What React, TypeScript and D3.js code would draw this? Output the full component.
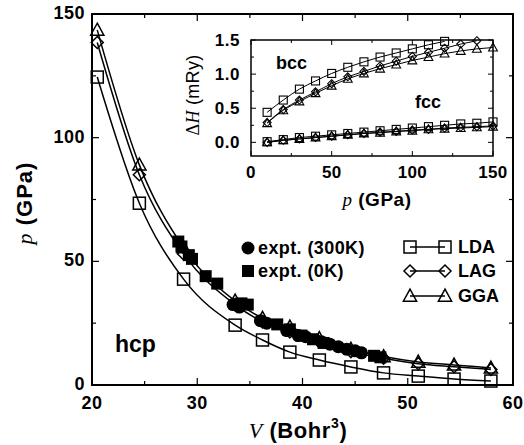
import React from "react";
import * as d3 from "d3";

// ---- main plot data (V in Bohr^3, p in GPa) ----
const vTheory = [20.5, 24.5, 28.7, 33.6, 36.2, 38.8, 41.6, 44.6, 47.7, 51.0, 54.4, 57.9];
const pLDA = [124.5, 73.5, 42.8, 24.2, 18.2, 13.3, 10.1, 7.3, 4.9, 3.6, 2.4, 1.6];
const pLAG = [138.5, 85, 53, 32.5, 25.5, 21.5, 17.5, 13.5, 10.8, 8.6, 7.4, 6.3];
const pGGA = [143.5, 89, 55.5, 34, 27, 23.5, 18.8, 14.5, 11.5, 9.3, 8.1, 6.9];

const vExp300 = [33.4, 34.0, 36.0, 36.6, 38.5, 39.6, 40.3, 41.8, 42.6, 43.4, 44.2, 45.0, 45.6];
const pExp300 = [32.5, 31.5, 26, 25, 22, 20, 19.5, 17.5, 16.5, 15.5, 14.5, 13.8, 13];
const vExp0 = [28.2, 28.5, 29.2, 29.5, 30.8, 31.9, 34.2, 34.8, 37.6, 38.8, 39.9, 41.0, 42.0, 46.8, 47.4];
const pExp0 = [58, 56, 52.5, 51, 44, 41, 33, 32.5, 24.5, 22.5, 20, 18.5, 17, 11.8, 11.2];

const xTicksMain = [20, 30, 40, 50, 60];
const yTicksMain = [0, 50, 100, 150];

// ---- inset data (p in GPa, dH in mRy) ----
const pInset = [10, 20, 30, 40, 50, 60, 70, 80, 90, 100, 110, 120, 130, 140, 150];
const bccLDA = [0.44, 0.62, 0.78, 0.9, 1.01, 1.1, 1.18, 1.25, 1.31, 1.37, 1.43, 1.48];
const bccLAG = [0.29, 0.48, 0.62, 0.74, 0.86, 0.96, 1.04, 1.12, 1.19, 1.26, 1.32, 1.38, 1.44, 1.49];
const bccGGA = [0.28, 0.47, 0.6, 0.72, 0.83, 0.93, 1.01, 1.08, 1.14, 1.2, 1.25, 1.3, 1.34, 1.37, 1.39];
const fccLDA = [0.01, 0.04, 0.07, 0.09, 0.11, 0.13, 0.15, 0.17, 0.19, 0.21, 0.23, 0.25, 0.27, 0.28, 0.3];
const fccLAG = [0.0, 0.03, 0.05, 0.07, 0.09, 0.11, 0.13, 0.15, 0.16, 0.18, 0.19, 0.21, 0.22, 0.23, 0.24];
const fccGGA = [0.0, 0.03, 0.05, 0.07, 0.09, 0.11, 0.13, 0.14, 0.16, 0.17, 0.19, 0.2, 0.21, 0.22, 0.23];

const xTicksInset = [0, 50, 100, 150];
const yTicksInset = [0.0, 0.5, 1.0, 1.5];

const SANS = "'Liberation Sans', Arial, Helvetica, sans-serif";
const SERIF = "'Liberation Serif', 'Times New Roman', serif";

type Shape = "square" | "diamond" | "triangle" | "circle";

function Marker({ shape, x, y, s, filled, sw = 1.4 }: { shape: Shape; x: number; y: number; s: number; filled?: boolean; sw?: number }) {
  const fill = filled ? "#000" : "none";
  const w = filled ? 0 : sw;
  const h = s / 2;
  if (shape === "square")
    return <rect x={x - h} y={y - h} width={s} height={s} fill={fill} stroke="#000" strokeWidth={w} />;
  if (shape === "circle") return <circle cx={x} cy={y} r={h} fill={fill} stroke="#000" strokeWidth={w} />;
  if (shape === "diamond")
    return (
      <polygon
        points={`${x},${y - h} ${x + h},${y} ${x},${y + h} ${x - h},${y}`}
        fill={fill}
        stroke="#000"
        strokeWidth={w}
      />
    );
  const th = s * 0.95;
  return (
    <polygon
      points={`${x},${y - th * 0.6} ${x + h * 1.1},${y + th * 0.45} ${x - h * 1.1},${y + th * 0.45}`}
      fill={fill}
      stroke="#000"
      strokeWidth={w}
    />
  );
}

export default function App() {
  const W = 524,
    H = 445;
  // main frame
  const mL = 92,
    mR = 513,
    mT = 14,
    mB = 385;
  const x = d3.scaleLinear().domain([20, 60]).range([mL, mR]);
  const y = d3.scaleLinear().domain([0, 150]).range([mB, mT]);

  // inset frame
  const iL = 251,
    iR = 493,
    iT = 40,
    iB = 156;
  const xi = d3.scaleLinear().domain([0, 150]).range([iL, iR]);
  const yi = d3.scaleLinear().domain([-0.2, 1.5]).range([iB, iT]);

  const lineMain = d3
    .line<[number, number]>()
    .x((d) => x(d[0]))
    .y((d) => y(d[1]))
    .curve(d3.curveMonotoneX);
  const lineInset = d3
    .line<[number, number]>()
    .x((d) => xi(d[0]))
    .y((d) => yi(d[1]))
    .curve(d3.curveMonotoneX);

  const theory: { p: number[]; shape: Shape }[] = [
    { p: pLDA, shape: "square" },
    { p: pLAG, shape: "diamond" },
    { p: pGGA, shape: "triangle" },
  ];

  const insetSeries: { v: number[]; shape: Shape }[] = [
    { v: bccLDA, shape: "square" },
    { v: bccLAG, shape: "diamond" },
    { v: bccGGA, shape: "triangle" },
    { v: fccLDA, shape: "square" },
    { v: fccLAG, shape: "diamond" },
    { v: fccGGA, shape: "triangle" },
  ];

  const xMinorMain = d3.range(25, 60, 10);
  const yMinorMain = [25, 75, 125];
  const xMinorInset = [25, 75, 125];
  const yMinorInset = [0.25, 0.75, 1.25];

  const tickMaj = 7,
    tickMin = 4;
  const insetMaj = 5,
    insetMin = 3;

  const legendRight: { label: string; shape: Shape; yy: number }[] = [
    { label: "LDA", shape: "square", yy: 247 },
    { label: "LAG", shape: "diamond", yy: 271 },
    { label: "GGA", shape: "triangle", yy: 296 },
  ];

  return (
    <svg width={W} height={H} style={{ position: "absolute", left: 0, top: 0, background: "#fff" }}>
      <rect width={W} height={H} fill="#fff" />

      {/* main ticks */}
      {xTicksMain.map((t) => (
        <g key={"xm" + t}>
          <line x1={x(t)} x2={x(t)} y1={mB} y2={mB - tickMaj} stroke="#000" strokeWidth={1.2} />
          <line x1={x(t)} x2={x(t)} y1={mT} y2={mT + tickMaj} stroke="#000" strokeWidth={1.2} />
          <text x={x(t)} y={409} textAnchor="middle" fontFamily={SANS} fontWeight="bold" fontSize={18} letterSpacing={0.5}>
            {t}
          </text>
        </g>
      ))}
      {xMinorMain.map((t) => (
        <g key={"xmn" + t}>
          <line x1={x(t)} x2={x(t)} y1={mB} y2={mB - tickMin} stroke="#000" strokeWidth={1.2} />
          <line x1={x(t)} x2={x(t)} y1={mT} y2={mT + tickMin} stroke="#000" strokeWidth={1.2} />
        </g>
      ))}
      {yTicksMain.map((t) => (
        <g key={"ym" + t}>
          <line x1={mL} x2={mL + tickMaj} y1={y(t)} y2={y(t)} stroke="#000" strokeWidth={1.2} />
          <line x1={mR} x2={mR - tickMaj} y1={y(t)} y2={y(t)} stroke="#000" strokeWidth={1.2} />
          <text x={mL - 7} y={y(t) + 5} textAnchor="end" fontFamily={SANS} fontWeight="bold" fontSize={18} letterSpacing={0.5}>
            {t}
          </text>
        </g>
      ))}
      {yMinorMain.map((t) => (
        <g key={"ymn" + t}>
          <line x1={mL} x2={mL + tickMin} y1={y(t)} y2={y(t)} stroke="#000" strokeWidth={1.2} />
          <line x1={mR} x2={mR - tickMin} y1={y(t)} y2={y(t)} stroke="#000" strokeWidth={1.2} />
        </g>
      ))}

      {/* theory curves */}
      {theory.map((s, i) => (
        <g key={"th" + i}>
          <path
            d={lineMain(vTheory.map((v, j) => [v, s.p[j]] as [number, number])) || ""}
            fill="none"
            stroke="#000"
            strokeWidth={1.5}
          />
          {vTheory.map((v, j) => (
            <Marker key={j} shape={s.shape} x={x(v)} y={y(s.p[j])} s={12} sw={1.5} />
          ))}
        </g>
      ))}

      {/* experiments */}
      {vExp0.map((v, j) => (
        <Marker key={"e0" + j} shape="square" x={x(v)} y={y(pExp0[j])} s={12} filled />
      ))}
      {vExp300.map((v, j) => (
        <Marker key={"e3" + j} shape="circle" x={x(v)} y={y(pExp300[j])} s={13} filled />
      ))}

      {/* hcp label */}
      <text x={115} y={352} fontFamily={SANS} fontWeight="bold" fontSize={23}>
        hcp
      </text>

      {/* legend left */}
      <Marker shape="circle" x={248} y={248} s={13} filled />
      <text x={258} y={254} fontFamily={SANS} fontWeight="bold" fontSize={18} letterSpacing={0.4}>
        expt. (300K)
      </text>
      <Marker shape="square" x={248} y={271} s={12} filled />
      <text x={258} y={277} fontFamily={SANS} fontWeight="bold" fontSize={18} letterSpacing={0.4}>
        expt. (0K)
      </text>

      {/* legend right */}
      {legendRight.map((l) => (
        <g key={l.label}>
          <line x1={410} x2={445} y1={l.yy} y2={l.yy} stroke="#000" strokeWidth={1.5} />
          <Marker shape={l.shape} x={410} y={l.yy} s={12} sw={1.5} />
          <Marker shape={l.shape} x={445} y={l.yy} s={12} sw={1.5} />
          <text x={458} y={l.yy + 6} fontFamily={SANS} fontWeight="bold" fontSize={18}>
            {l.label}
          </text>
        </g>
      ))}

      {/* main frame */}
      <rect x={mL} y={mT} width={mR - mL} height={mB - mT} fill="none" stroke="#000" strokeWidth={2} />

      {/* axis labels */}
      <text x={298} y={438} textAnchor="middle" fontSize={22} letterSpacing={0.6}>
        <tspan fontFamily={SERIF} fontStyle="italic">V</tspan>
        <tspan fontFamily={SANS} fontWeight="bold"> (Bohr</tspan>
        <tspan fontFamily={SANS} fontWeight="bold" fontSize={14} dy={-10}>3</tspan>
        <tspan fontFamily={SANS} fontWeight="bold" dy={10}>)</tspan>
      </text>
      <text transform="translate(32,203) rotate(-90)" textAnchor="middle" fontSize={22} letterSpacing={1}>
        <tspan fontFamily={SERIF} fontStyle="italic">p</tspan>
        <tspan fontFamily={SANS} fontWeight="bold"> (GPa)</tspan>
      </text>

      {/* ---------- inset ---------- */}
      <rect x={iL} y={iT} width={iR - iL} height={iB - iT} fill="#fff" stroke="none" />
      {xTicksInset.map((t) => (
        <g key={"xi" + t}>
          <line x1={xi(t)} x2={xi(t)} y1={iB} y2={iB - insetMaj} stroke="#000" strokeWidth={1} />
          <line x1={xi(t)} x2={xi(t)} y1={iT} y2={iT + insetMaj} stroke="#000" strokeWidth={1} />
          <text x={xi(t)} y={178} textAnchor="middle" fontFamily={SANS} fontWeight="bold" fontSize={17} letterSpacing={0.3}>
            {t}
          </text>
        </g>
      ))}
      {xMinorInset.map((t) => (
        <g key={"xin" + t}>
          <line x1={xi(t)} x2={xi(t)} y1={iB} y2={iB - insetMin} stroke="#000" strokeWidth={1} />
          <line x1={xi(t)} x2={xi(t)} y1={iT} y2={iT + insetMin} stroke="#000" strokeWidth={1} />
        </g>
      ))}
      {yTicksInset.map((t) => (
        <g key={"yi" + t}>
          <line x1={iL} x2={iL + insetMaj} y1={yi(t)} y2={yi(t)} stroke="#000" strokeWidth={1} />
          <line x1={iR} x2={iR - insetMaj} y1={yi(t)} y2={yi(t)} stroke="#000" strokeWidth={1} />
          <text x={iL - 11} y={yi(t) + 6} textAnchor="end" fontFamily={SANS} fontWeight="bold" fontSize={17} letterSpacing={0.5}>
            {t.toFixed(1)}
          </text>
        </g>
      ))}
      {yMinorInset.map((t) => (
        <g key={"yin" + t}>
          <line x1={iL} x2={iL + insetMin} y1={yi(t)} y2={yi(t)} stroke="#000" strokeWidth={1} />
          <line x1={iR} x2={iR - insetMin} y1={yi(t)} y2={yi(t)} stroke="#000" strokeWidth={1} />
        </g>
      ))}

      {insetSeries.map((s, i) => (
        <g key={"is" + i}>
          <path
            d={lineInset(s.v.map((v, j) => [pInset[j], v] as [number, number])) || ""}
            fill="none"
            stroke="#000"
            strokeWidth={1}
          />
          {s.v.map((v, j) => (
            <Marker key={j} shape={s.shape} x={xi(pInset[j])} y={yi(v)} s={8} sw={1.1} />
          ))}
        </g>
      ))}

      <text x={276} y={69} fontFamily={SANS} fontWeight="bold" fontSize={18}>
        bcc
      </text>
      <text x={415} y={108} fontFamily={SANS} fontWeight="bold" fontSize={18}>
        fcc
      </text>

      <rect x={iL} y={iT} width={iR - iL} height={iB - iT} fill="none" stroke="#000" strokeWidth={1.5} />

      <text x={377} y={206} textAnchor="middle" fontSize={19} letterSpacing={0.5}>
        <tspan fontFamily={SERIF} fontStyle="italic">p</tspan>
        <tspan fontFamily={SANS} fontWeight="bold"> (GPa)</tspan>
      </text>
      <text transform="translate(199,95) rotate(-90)" textAnchor="middle" fontSize={18} letterSpacing={0.3}>
        <tspan fontFamily={SERIF}>Δ</tspan>
        <tspan fontFamily={SERIF} fontStyle="italic">H</tspan>
        <tspan fontFamily={SANS}> (mRy)</tspan>
      </text>
    </svg>
  );
}
